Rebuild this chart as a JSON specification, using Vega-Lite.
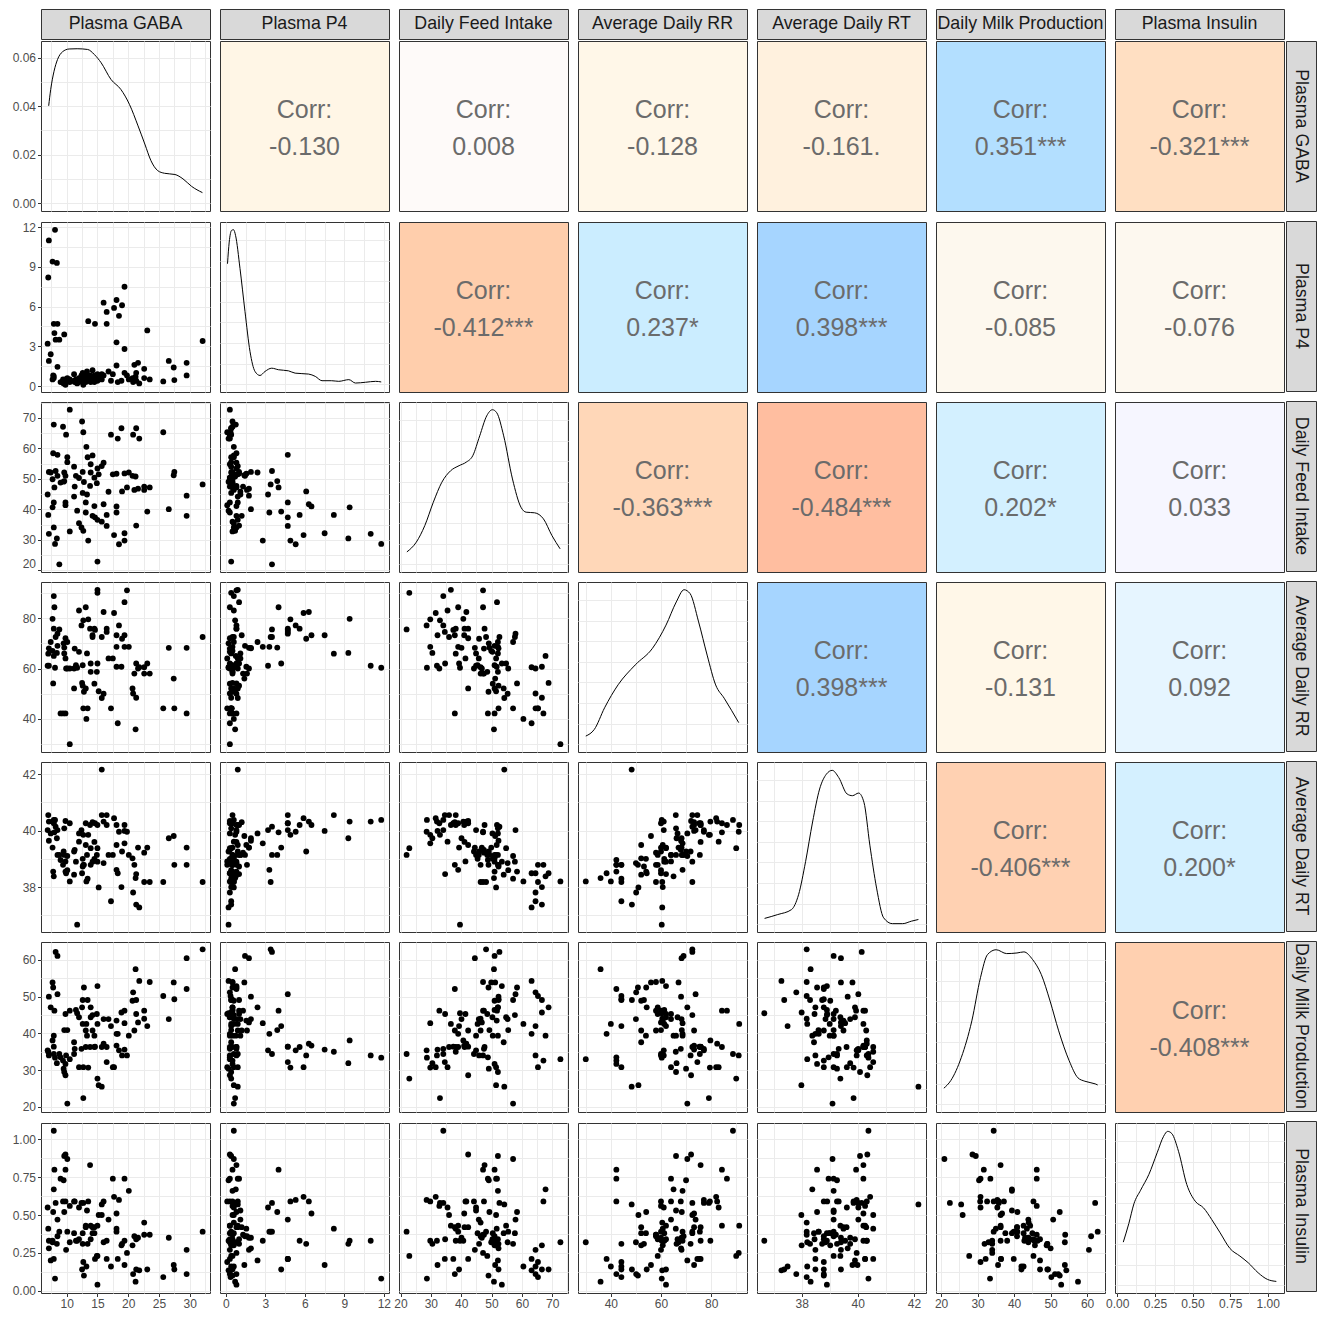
{
"$schema":"https://vega.github.io/schema/vega-lite/v6.json",
"padding":{"left":11,"top":8,"right":1,"bottom":4},
"background":"white",
"config":{
 "font":"Liberation Sans",
 "view":{"stroke":"#333333","strokeWidth":1},
 "axis":{"domain":false,"grid":true,"gridColor":"#EBEBEB","gridWidth":1,"labelFont":"Liberation Sans","labelFontSize":12,"labelColor":"#4D4D4D","tickColor":"#333333","tickWidth":1,"tickSize":3.5,"labelPadding":2,"labelOverlap":false,"labelFlush":false,"labelBound":false}
},
"datasets":{
"obs":[
{"G":6.9,"P4":3.2,"F":44.9,"RR":61.1,"RT":40.02,"M":35.4,"I":0.55},
{"G":7.0,"P4":8.2,"F":38.2,"RR":65.9,"RT":40.55,"M":35.0,"I":0.41},
{"G":7.1,"P4":1.9,"F":52.3,"RR":68.0,"RT":39.64,"M":50.0,"I":0.28},
{"G":7.1,"P4":11.0,"F":32.0,"RR":61.1,"RT":40.32,"M":34.0,"I":0.33},
{"G":7.4,"P4":2.4,"F":52.1,"RR":70.5,"RT":39.9,"M":47.1,"I":0.20},
{"G":7.7,"P4":0.5,"F":49.9,"RR":67.0,"RT":39.4,"M":53.9,"I":0.32},
{"G":7.7,"P4":9.4,"F":40.7,"RR":79.7,"RT":40.32,"M":38.1,"I":0.33},
{"G":7.8,"P4":0.8,"F":58.4,"RR":54.1,"RT":38.55,"M":52.5,"I":0.52},
{"G":7.9,"P4":0.75,"F":67.8,"RR":65.0,"RT":38.38,"M":39.4,"I":0.67},
{"G":7.9,"P4":0.6,"F":34.1,"RR":88.7,"RT":40.38,"M":34.4,"I":1.057},
{"G":7.9,"P4":4.7,"F":42.3,"RR":75.8,"RT":40.26,"M":36.4,"I":0.21},
{"G":8.0,"P4":4.0,"F":47.2,"RR":84.3,"RT":39.94,"M":46.2,"I":0.80},
{"G":8.1,"P4":11.8,"F":28.7,"RR":60.3,"RT":40.38,"M":33.4,"I":0.08},
{"G":8.2,"P4":3.5,"F":52.6,"RR":72.5,"RT":40.14,"M":62.2,"I":0.58},
{"G":8.4,"P4":9.3,"F":30.5,"RR":66.2,"RT":39.73,"M":31.9,"I":0.31},
{"G":8.5,"P4":4.7,"F":57.9,"RR":73.8,"RT":40.02,"M":50.7,"I":0.47},
{"G":8.5,"P4":1.45,"F":51.0,"RR":69.0,"RT":39.14,"M":61.1,"I":0.36},
{"G":8.8,"P4":3.5,"F":22.0,"RR":75.5,"RT":39.14,"M":34.4,"I":0.39},
{"G":9.0,"P4":0.3,"F":48.8,"RR":42.2,"RT":38.96,"M":33.5,"I":0.74},
{"G":9.4,"P4":0.5,"F":67.1,"RR":42.2,"RT":38.79,"M":32.6,"I":0.59},
{"G":9.5,"P4":0.2,"F":49.1,"RR":70.0,"RT":39.26,"M":30.4,"I":0.73},
{"G":9.6,"P4":0.4,"F":52.1,"RR":66.0,"RT":40.08,"M":29.5,"I":0.89},
{"G":9.6,"P4":3.9,"F":49.3,"RR":68.3,"RT":39.14,"M":40.9,"I":0.52},
{"G":9.8,"P4":0.3,"F":42.3,"RR":72.0,"RT":40.34,"M":28.6,"I":0.90},
{"G":9.8,"P4":0.1,"F":41.4,"RR":64.0,"RT":38.91,"M":45.3,"I":0.59},
{"G":9.8,"P4":0.5,"F":51.0,"RR":42.2,"RT":38.55,"M":31.7,"I":0.80},
{"G":9.9,"P4":0.3,"F":64.5,"RR":60.0,"RT":38.49,"M":34.0,"I":0.27},
{"G":10.1,"P4":0.6,"F":57.1,"RR":70.5,"RT":39.1,"M":20.9,"I":0.87},
{"G":10.1,"P4":0.4,"F":55.5,"RR":60.0,"RT":38.6,"M":40.9,"I":0.39},
{"G":10.5,"P4":0.3,"F":72.7,"RR":30.0,"RT":38.2,"M":33.0,"I":0.32},
{"G":10.5,"P4":0.5,"F":32.8,"RR":60.0,"RT":40.26,"M":46.2,"I":0.56},
{"G":11.2,"P4":0.4,"F":54.0,"RR":52.1,"RT":38.44,"M":37.6,"I":0.38},
{"G":11.2,"P4":0.9,"F":44.2,"RR":60.0,"RT":39.26,"M":34.4,"I":0.59},
{"G":11.3,"P4":0.3,"F":47.5,"RR":67.9,"RT":39.32,"M":35.8,"I":0.59},
{"G":11.5,"P4":0.5,"F":51.0,"RR":61.3,"RT":38.9,"M":46.4,"I":0.33},
{"G":11.7,"P4":0.2,"F":39.6,"RR":60.3,"RT":36.67,"M":45.5,"I":0.33},
{"G":12.0,"P4":0.6,"F":35.5,"RR":83.0,"RT":39.61,"M":30.8,"I":0.55},
{"G":12.0,"P4":0.3,"F":50.3,"RR":66.6,"RT":39.9,"M":44.4,"I":0.34},
{"G":12.4,"P4":0.8,"F":34.1,"RR":77.1,"RT":40.02,"M":35.8,"I":0.58},
{"G":12.5,"P4":0.5,"F":68.8,"RR":54.3,"RT":38.49,"M":47.1,"I":0.14},
{"G":12.6,"P4":1.0,"F":52.3,"RR":53.2,"RT":38.73,"M":49.1,"I":0.31},
{"G":12.6,"P4":0.4,"F":45.4,"RR":61.3,"RT":39.0,"M":42.6,"I":0.38},
{"G":12.7,"P4":0.1,"F":65.3,"RR":44.2,"RT":38.79,"M":30.8,"I":0.19},
{"G":12.7,"P4":0.7,"F":33.0,"RR":79.1,"RT":39.85,"M":22.4,"I":0.58},
{"G":12.8,"P4":0.5,"F":49.0,"RR":50.8,"RT":38.79,"M":52.5,"I":0.10},
{"G":13.1,"P4":0.9,"F":42.3,"RR":52.1,"RT":39.49,"M":40.8,"I":0.42},
{"G":13.1,"P4":0.3,"F":39.0,"RR":84.3,"RT":40.26,"M":36.3,"I":0.43},
{"G":13.2,"P4":0.6,"F":60.5,"RR":40.0,"RT":38.2,"M":42.6,"I":0.16},
{"G":13.3,"P4":1.1,"F":44.9,"RR":66.0,"RT":39.14,"M":39.4,"I":0.53},
{"G":13.4,"P4":0.4,"F":57.1,"RR":44.2,"RT":38.3,"M":49.1,"I":0.31},
{"G":13.5,"P4":4.9,"F":29.8,"RR":79.5,"RT":39.85,"M":30.7,"I":0.59},
{"G":13.8,"P4":0.8,"F":47.7,"RR":75.8,"RT":40.2,"M":36.3,"I":0.83},
{"G":13.9,"P4":0.5,"F":52.1,"RR":58.7,"RT":38.79,"M":47.1,"I":0.34},
{"G":13.9,"P4":0.3,"F":54.8,"RR":62.0,"RT":39.38,"M":44.4,"I":0.43},
{"G":14.2,"P4":0.6,"F":57.7,"RR":72.5,"RT":38.9,"M":45.0,"I":0.38},
{"G":14.2,"P4":1.2,"F":37.9,"RR":73.2,"RT":40.3,"M":40.8,"I":0.42},
{"G":14.5,"P4":0.3,"F":50.4,"RR":54.0,"RT":39.0,"M":39.4,"I":0.38},
{"G":14.5,"P4":0.8,"F":41.1,"RR":75.8,"RT":39.6,"M":36.3,"I":0.42},
{"G":14.6,"P4":4.7,"F":37.4,"RR":75.3,"RT":40.26,"M":36.4,"I":0.21},
{"G":14.9,"P4":0.5,"F":48.6,"RR":58.7,"RT":39.14,"M":45.3,"I":0.23},
{"G":15.0,"P4":0.9,"F":36.6,"RR":91.2,"RT":40.2,"M":42.6,"I":0.43},
{"G":15.0,"P4":0.4,"F":22.9,"RR":90.0,"RT":39.38,"M":27.7,"I":0.23},
{"G":15.0,"P4":0.8,"F":53.4,"RR":62.0,"RT":38.9,"M":52.9,"I":0.04},
{"G":15.2,"P4":0.6,"F":51.5,"RR":51.0,"RT":37.99,"M":25.9,"I":0.50},
{"G":15.7,"P4":0.9,"F":54.2,"RR":48.3,"RT":42.16,"M":25.5,"I":0.57},
{"G":15.7,"P4":0.5,"F":36.0,"RR":72.5,"RT":40.55,"M":36.3,"I":0.50},
{"G":16.0,"P4":0.8,"F":55.3,"RR":50.0,"RT":38.85,"M":43.9,"I":0.32},
{"G":16.0,"P4":6.3,"F":41.7,"RR":82.4,"RT":40.32,"M":37.2,"I":0.59},
{"G":16.5,"P4":5.6,"F":38.2,"RR":75.8,"RT":40.2,"M":36.3,"I":0.33},
{"G":16.5,"P4":4.7,"F":34.6,"RR":74.5,"RT":40.55,"M":32.2,"I":0.21},
{"G":16.8,"P4":1.1,"F":45.8,"RR":64.0,"RT":39.14,"M":43.9,"I":0.47},
{"G":17.2,"P4":0.4,"F":64.5,"RR":44.2,"RT":37.5,"M":42.0,"I":0.16},
{"G":17.5,"P4":0.9,"F":51.5,"RR":64.0,"RT":39.14,"M":30.8,"I":0.74},
{"G":17.7,"P4":5.9,"F":31.6,"RR":82.0,"RT":40.44,"M":30.8,"I":0.62},
{"G":18.1,"P4":6.5,"F":41.0,"RR":73.2,"RT":40.2,"M":36.7,"I":0.51},
{"G":18.1,"P4":3.3,"F":39.0,"RR":68.6,"RT":38.61,"M":39.9,"I":0.39},
{"G":18.1,"P4":1.55,"F":51.7,"RR":60.7,"RT":39.49,"M":43.5,"I":0.41},
{"G":18.3,"P4":0.3,"F":63.2,"RR":38.3,"RT":38.49,"M":39.9,"I":0.21},
{"G":18.5,"P4":5.3,"F":28.6,"RR":77.1,"RT":39.96,"M":35.4,"I":0.60},
{"G":18.9,"P4":0.4,"F":66.6,"RR":60.7,"RT":38.0,"M":45.7,"I":0.30},
{"G":19.0,"P4":6.1,"F":45.9,"RR":71.8,"RT":39.26,"M":34.0,"I":0.31},
{"G":19.4,"P4":7.5,"F":32.2,"RR":73.2,"RT":39.99,"M":35.6,"I":0.17},
{"G":19.4,"P4":2.8,"F":29.8,"RR":68.6,"RT":39.55,"M":42.8,"I":0.33},
{"G":19.4,"P4":1.0,"F":51.8,"RR":86.3,"RT":40.2,"M":46.2,"I":0.74},
{"G":19.8,"P4":0.8,"F":47.2,"RR":91.0,"RT":39.96,"M":34.0,"I":0.25},
{"G":20.1,"P4":0.5,"F":52.1,"RR":68.6,"RT":39.14,"M":39.4,"I":0.66},
{"G":20.7,"P4":0.6,"F":51.0,"RR":52.1,"RT":39.02,"M":48.9,"I":0.30},
{"G":20.8,"P4":0.3,"F":64.5,"RR":50.1,"RT":37.81,"M":51.2,"I":0.11},
{"G":21.0,"P4":1.6,"F":46.4,"RR":58.0,"RT":38.79,"M":40.8,"I":0.36},
{"G":21.2,"P4":0.7,"F":50.8,"RR":35.9,"RT":38.32,"M":57.5,"I":0.06},
{"G":21.3,"P4":0.4,"F":66.6,"RR":48.4,"RT":37.38,"M":49.1,"I":0.14},
{"G":21.3,"P4":1.0,"F":34.7,"RR":62.0,"RT":38.46,"M":45.3,"I":0.34},
{"G":21.6,"P4":1.75,"F":46.8,"RR":60.0,"RT":39.4,"M":43.0,"I":0.35},
{"G":21.8,"P4":0.2,"F":63.2,"RR":60.5,"RT":37.28,"M":54.3,"I":0.135},
{"G":22.6,"P4":1.3,"F":47.5,"RR":58.0,"RT":39.22,"M":46.2,"I":0.37},
{"G":22.6,"P4":0.6,"F":46.4,"RR":60.5,"RT":38.18,"M":44.0,"I":0.45},
{"G":23.1,"P4":4.2,"F":39.3,"RR":62.0,"RT":39.4,"M":42.0,"I":0.14},
{"G":23.5,"P4":0.5,"F":47.2,"RR":58.0,"RT":38.18,"M":54.0,"I":0.37},
{"G":25.7,"P4":0.35,"F":65.3,"RR":44.2,"RT":38.18,"M":50.2,"I":0.09},
{"G":26.6,"P4":1.9,"F":40.1,"RR":68.2,"RT":39.73,"M":43.9,"I":0.35},
{"G":27.4,"P4":1.4,"F":51.2,"RR":56.0,"RT":39.81,"M":53.9,"I":0.17},
{"G":27.5,"P4":0.45,"F":52.3,"RR":44.2,"RT":38.79,"M":49.3,"I":0.14},
{"G":29.5,"P4":1.75,"F":44.5,"RR":68.2,"RT":39.4,"M":60.5,"I":0.27},
{"G":29.5,"P4":0.8,"F":37.9,"RR":42.2,"RT":38.79,"M":52.1,"I":0.11},
{"G":32.1,"P4":3.4,"F":48.2,"RR":72.5,"RT":38.18,"M":62.9,"I":0.39}
],
"dG":[{"x":7.07,"y":0.0402},{"x":7.4,"y":0.047},{"x":7.94,"y":0.0545},{"x":8.5,"y":0.0593},{"x":9.3,"y":0.0625},{"x":10.4,"y":0.0637},{"x":11.7,"y":0.0638},{"x":13.4,"y":0.0635},{"x":14.5,"y":0.0614},{"x":15.6,"y":0.058},{"x":17.2,"y":0.0511},{"x":18.8,"y":0.047},{"x":20.2,"y":0.0408},{"x":21.6,"y":0.0319},{"x":22.7,"y":0.0244},{"x":23.7,"y":0.0175},{"x":24.8,"y":0.0134},{"x":25.9,"y":0.0123},{"x":27.6,"y":0.0118},{"x":28.9,"y":0.010},{"x":30.3,"y":0.0069},{"x":32.07,"y":0.0043}],
"dP4":[{"x":0.12,"y":0.78},{"x":0.25,"y":0.92},{"x":0.43,"y":0.996},{"x":0.58,"y":1.0},{"x":0.73,"y":0.964},{"x":1.07,"y":0.749},{"x":1.45,"y":0.47},{"x":1.83,"y":0.212},{"x":2.21,"y":0.083},{"x":2.59,"y":0.057},{"x":2.97,"y":0.083},{"x":3.48,"y":0.104},{"x":3.99,"y":0.094},{"x":4.75,"y":0.087},{"x":5.26,"y":0.072},{"x":6.28,"y":0.066},{"x":6.79,"y":0.051},{"x":7.3,"y":0.023},{"x":8.03,"y":0.023},{"x":8.57,"y":0.019},{"x":9.34,"y":0.03},{"x":9.84,"y":0.008},{"x":10.61,"y":0.013},{"x":11.37,"y":0.019},{"x":11.8,"y":0.015}],
"dF":[{"x":22.1,"y":0.08},{"x":25.2,"y":0.143},{"x":28.0,"y":0.25},{"x":30.8,"y":0.401},{"x":33.6,"y":0.53},{"x":36.5,"y":0.605},{"x":39.3,"y":0.638},{"x":41.6,"y":0.66},{"x":43.8,"y":0.702},{"x":46.1,"y":0.831},{"x":48.4,"y":0.96},{"x":50.3,"y":1.0},{"x":51.7,"y":0.981},{"x":54.0,"y":0.831},{"x":56.9,"y":0.552},{"x":59.7,"y":0.369},{"x":61.4,"y":0.337},{"x":64.2,"y":0.333},{"x":67.1,"y":0.294},{"x":69.9,"y":0.186},{"x":72.6,"y":0.1}],
"dRR":[{"x":30.0,"y":0.053},{"x":33.4,"y":0.096},{"x":37.5,"y":0.236},{"x":42.9,"y":0.385},{"x":49.7,"y":0.513},{"x":56.6,"y":0.621},{"x":62.0,"y":0.771},{"x":66.1,"y":0.921},{"x":69.2,"y":1.0},{"x":71.6,"y":0.975},{"x":75.0,"y":0.792},{"x":78.4,"y":0.577},{"x":81.8,"y":0.384},{"x":85.2,"y":0.298},{"x":91.0,"y":0.14}],
"dRT":[{"x":36.68,"y":0.038},{"x":37.15,"y":0.063},{"x":37.64,"y":0.095},{"x":37.89,"y":0.191},{"x":38.14,"y":0.405},{"x":38.39,"y":0.662},{"x":38.64,"y":0.875},{"x":38.88,"y":0.971},{"x":39.09,"y":0.996},{"x":39.32,"y":0.95},{"x":39.62,"y":0.843},{"x":39.81,"y":0.832},{"x":40.03,"y":0.849},{"x":40.22,"y":0.789},{"x":40.43,"y":0.512},{"x":40.67,"y":0.234},{"x":40.92,"y":0.042},{"x":41.23,"y":0.004},{"x":41.6,"y":0.004},{"x":41.91,"y":0.02},{"x":42.16,"y":0.031}],
"dM":[{"x":20.75,"y":0.104},{"x":22.67,"y":0.154},{"x":25.55,"y":0.304},{"x":28.42,"y":0.54},{"x":30.78,"y":0.819},{"x":32.72,"y":0.969},{"x":35.08,"y":1.0},{"x":37.95,"y":0.975},{"x":40.78,"y":0.979},{"x":42.68,"y":0.986},{"x":45.08,"y":0.936},{"x":47.44,"y":0.84},{"x":49.85,"y":0.668},{"x":52.21,"y":0.475},{"x":55.08,"y":0.282},{"x":57.49,"y":0.171},{"x":59.39,"y":0.149},{"x":62.21,"y":0.132},{"x":62.9,"y":0.125}],
"dI":[{"x":0.04,"y":0.279},{"x":0.077,"y":0.4},{"x":0.111,"y":0.528},{"x":0.155,"y":0.615},{"x":0.21,"y":0.717},{"x":0.265,"y":0.857},{"x":0.308,"y":0.964},{"x":0.335,"y":0.996},{"x":0.363,"y":0.981},{"x":0.407,"y":0.867},{"x":0.462,"y":0.652},{"x":0.518,"y":0.544},{"x":0.573,"y":0.501},{"x":0.628,"y":0.425},{"x":0.684,"y":0.339},{"x":0.749,"y":0.238},{"x":0.815,"y":0.189},{"x":0.87,"y":0.146},{"x":0.936,"y":0.081},{"x":0.998,"y":0.038},{"x":1.057,"y":0.025}]
},
"spacing":0,
"vconcat":[
 {"bounds":"flush","spacing":10,"hconcat":[
  {"width":169,"height":30,"view":{"fill":"#D9D9D9","stroke":"#333333"},"data":{"values":[{"s":"Plasma GABA"}]},"mark":{"type":"text","fontSize":17.8,"color":"#1A1A1A","align":"center","baseline":"middle"},"encoding":{"text":{"field":"s","type":"nominal"}}},
  {"width":169,"height":30,"view":{"fill":"#D9D9D9","stroke":"#333333"},"data":{"values":[{"s":"Plasma P4"}]},"mark":{"type":"text","fontSize":17.8,"color":"#1A1A1A","align":"center","baseline":"middle"},"encoding":{"text":{"field":"s","type":"nominal"}}},
  {"width":169,"height":30,"view":{"fill":"#D9D9D9","stroke":"#333333"},"data":{"values":[{"s":"Daily Feed Intake"}]},"mark":{"type":"text","fontSize":17.8,"color":"#1A1A1A","align":"center","baseline":"middle"},"encoding":{"text":{"field":"s","type":"nominal"}}},
  {"width":169,"height":30,"view":{"fill":"#D9D9D9","stroke":"#333333"},"data":{"values":[{"s":"Average Daily RR"}]},"mark":{"type":"text","fontSize":17.8,"color":"#1A1A1A","align":"center","baseline":"middle"},"encoding":{"text":{"field":"s","type":"nominal"}}},
  {"width":169,"height":30,"view":{"fill":"#D9D9D9","stroke":"#333333"},"data":{"values":[{"s":"Average Daily RT"}]},"mark":{"type":"text","fontSize":17.8,"color":"#1A1A1A","align":"center","baseline":"middle"},"encoding":{"text":{"field":"s","type":"nominal"}}},
  {"width":169,"height":30,"view":{"fill":"#D9D9D9","stroke":"#333333"},"data":{"values":[{"s":"Daily Milk Production"}]},"mark":{"type":"text","fontSize":17.8,"color":"#1A1A1A","align":"center","baseline":"middle"},"encoding":{"text":{"field":"s","type":"nominal"}}},
  {"width":169,"height":30,"view":{"fill":"#D9D9D9","stroke":"#333333"},"data":{"values":[{"s":"Plasma Insulin"}]},"mark":{"type":"text","fontSize":17.8,"color":"#1A1A1A","align":"center","baseline":"middle"},"encoding":{"text":{"field":"s","type":"nominal"}}}
 ]},
 {"spacing":0,"hconcat":[
  {"spacing":8,"vconcat":[
   {"bounds":"flush","spacing":10,"hconcat":[
    {"width":169,"height":170,"data":{"name":"dG"},"mark":{"type":"line","color":"#000000","strokeWidth":1,"interpolate":"monotone"},"encoding":{
     "x":{"field":"x","type":"quantitative","title":null,"scale":{"domain":[5.82,33.3],"nice":false,"zero":false},"axis":{"values":[7.5,10,12.5,15,17.5,20,22.5,25,27.5,30,32.5],"labels":false,"ticks":false}},
     "y":{"field":"y","type":"quantitative","title":null,"scale":{"domain":[-0.0033,0.067],"nice":false,"zero":false},"axis":{"values":[0,0.01,0.02,0.03,0.04,0.05,0.06],"format":".2f","labelExpr":"round(datum.value*100) % 2 != 0 ? '' : datum.label","tickSize":{"condition":{"test":"round(datum.value*100) % 2 != 0","value":0},"value":3.5}}}}},
    {"width":169,"height":170,"view":{"fill":"#FFF6E6","stroke":"#333333"},"data":{"values":[{"t":"Corr:\n-0.130"}]},"mark":{"type":"text","fontSize":25,"color":"#6B6B6B","lineBreak":"\n","lineHeight":37,"align":"center","baseline":"middle","dy":-16.5},"encoding":{"text":{"field":"t","type":"nominal"}}},
    {"width":169,"height":170,"view":{"fill":"#FEFAF9","stroke":"#333333"},"data":{"values":[{"t":"Corr:\n0.008"}]},"mark":{"type":"text","fontSize":25,"color":"#6B6B6B","lineBreak":"\n","lineHeight":37,"align":"center","baseline":"middle","dy":-16.5},"encoding":{"text":{"field":"t","type":"nominal"}}},
    {"width":169,"height":170,"view":{"fill":"#FFF7E8","stroke":"#333333"},"data":{"values":[{"t":"Corr:\n-0.128"}]},"mark":{"type":"text","fontSize":25,"color":"#6B6B6B","lineBreak":"\n","lineHeight":37,"align":"center","baseline":"middle","dy":-16.5},"encoding":{"text":{"field":"t","type":"nominal"}}},
    {"width":169,"height":170,"view":{"fill":"#FFF1DE","stroke":"#333333"},"data":{"values":[{"t":"Corr:\n-0.161."}]},"mark":{"type":"text","fontSize":25,"color":"#6B6B6B","lineBreak":"\n","lineHeight":37,"align":"center","baseline":"middle","dy":-16.5},"encoding":{"text":{"field":"t","type":"nominal"}}},
    {"width":169,"height":170,"view":{"fill":"#B3DFFF","stroke":"#333333"},"data":{"values":[{"t":"Corr:\n0.351***"}]},"mark":{"type":"text","fontSize":25,"color":"#6B6B6B","lineBreak":"\n","lineHeight":37,"align":"center","baseline":"middle","dy":-16.5},"encoding":{"text":{"field":"t","type":"nominal"}}},
    {"width":169,"height":170,"view":{"fill":"#FFDFC2","stroke":"#333333"},"data":{"values":[{"t":"Corr:\n-0.321***"}]},"mark":{"type":"text","fontSize":25,"color":"#6B6B6B","lineBreak":"\n","lineHeight":37,"align":"center","baseline":"middle","dy":-16.5},"encoding":{"text":{"field":"t","type":"nominal"}}}
   ]},
   {"bounds":"flush","spacing":10,"hconcat":[
    {"width":169,"height":170,"data":{"name":"obs"},"mark":{"type":"circle","size":34,"color":"#000000","opacity":1},"encoding":{
     "x":{"field":"G","type":"quantitative","title":null,"scale":{"domain":[5.82,33.3],"nice":false,"zero":false},"axis":{"values":[7.5,10,12.5,15,17.5,20,22.5,25,27.5,30,32.5],"labels":false,"ticks":false}},
     "y":{"field":"P4","type":"quantitative","title":null,"scale":{"domain":[-0.45,12.39],"nice":false,"zero":false},"axis":{"values":[0,1.5,3,4.5,6,7.5,9,10.5,12],"format":".0f","labelExpr":"datum.value % 3 != 0 ? '' : datum.label","tickSize":{"condition":{"test":"datum.value % 3 != 0","value":0},"value":3.5}}}}},
    {"width":169,"height":170,"data":{"name":"dP4"},"mark":{"type":"line","color":"#000000","strokeWidth":1,"interpolate":"monotone"},"encoding":{
     "x":{"field":"x","type":"quantitative","title":null,"scale":{"domain":[-0.45,12.39],"nice":false,"zero":false},"axis":{"values":[0,1.5,3,4.5,6,7.5,9,10.5,12],"labels":false,"ticks":false}},
     "y":{"field":"y","type":"quantitative","title":null,"scale":{"domain":[-0.05,1.05],"nice":false,"zero":false},"axis":{"values":[0,0.133,0.267,0.4,0.533,0.667,0.8,0.933],"labels":false,"ticks":false}}}},
    {"width":169,"height":170,"view":{"fill":"#FFCEAC","stroke":"#333333"},"data":{"values":[{"t":"Corr:\n-0.412***"}]},"mark":{"type":"text","fontSize":25,"color":"#6B6B6B","lineBreak":"\n","lineHeight":37,"align":"center","baseline":"middle","dy":-16.5},"encoding":{"text":{"field":"t","type":"nominal"}}},
    {"width":169,"height":170,"view":{"fill":"#CBEDFF","stroke":"#333333"},"data":{"values":[{"t":"Corr:\n0.237*"}]},"mark":{"type":"text","fontSize":25,"color":"#6B6B6B","lineBreak":"\n","lineHeight":37,"align":"center","baseline":"middle","dy":-16.5},"encoding":{"text":{"field":"t","type":"nominal"}}},
    {"width":169,"height":170,"view":{"fill":"#A6D5FF","stroke":"#333333"},"data":{"values":[{"t":"Corr:\n0.398***"}]},"mark":{"type":"text","fontSize":25,"color":"#6B6B6B","lineBreak":"\n","lineHeight":37,"align":"center","baseline":"middle","dy":-16.5},"encoding":{"text":{"field":"t","type":"nominal"}}},
    {"width":169,"height":170,"view":{"fill":"#FDF8EE","stroke":"#333333"},"data":{"values":[{"t":"Corr:\n-0.085"}]},"mark":{"type":"text","fontSize":25,"color":"#6B6B6B","lineBreak":"\n","lineHeight":37,"align":"center","baseline":"middle","dy":-16.5},"encoding":{"text":{"field":"t","type":"nominal"}}},
    {"width":169,"height":170,"view":{"fill":"#FDF8EF","stroke":"#333333"},"data":{"values":[{"t":"Corr:\n-0.076"}]},"mark":{"type":"text","fontSize":25,"color":"#6B6B6B","lineBreak":"\n","lineHeight":37,"align":"center","baseline":"middle","dy":-16.5},"encoding":{"text":{"field":"t","type":"nominal"}}}
   ]},
   {"bounds":"flush","spacing":10,"hconcat":[
    {"width":169,"height":170,"data":{"name":"obs"},"mark":{"type":"circle","size":34,"color":"#000000","opacity":1},"encoding":{
     "x":{"field":"G","type":"quantitative","title":null,"scale":{"domain":[5.82,33.3],"nice":false,"zero":false},"axis":{"values":[7.5,10,12.5,15,17.5,20,22.5,25,27.5,30,32.5],"labels":false,"ticks":false}},
     "y":{"field":"F","type":"quantitative","title":null,"scale":{"domain":[19.5,75.2],"nice":false,"zero":false},"axis":{"values":[20,25,30,35,40,45,50,55,60,65,70,75],"format":".0f","labelExpr":"datum.value % 10 != 0 ? '' : datum.label","tickSize":{"condition":{"test":"datum.value % 10 != 0","value":0},"value":3.5},"labelFlush":4}}}},
    {"width":169,"height":170,"data":{"name":"obs"},"mark":{"type":"circle","size":34,"color":"#000000","opacity":1},"encoding":{
     "x":{"field":"P4","type":"quantitative","title":null,"scale":{"domain":[-0.45,12.39],"nice":false,"zero":false},"axis":{"values":[0,1.5,3,4.5,6,7.5,9,10.5,12],"labels":false,"ticks":false}},
     "y":{"field":"F","type":"quantitative","title":null,"scale":{"domain":[19.5,75.2],"nice":false,"zero":false},"axis":{"values":[20,25,30,35,40,45,50,55,60,65,70,75],"labels":false,"ticks":false}}}},
    {"width":169,"height":170,"data":{"name":"dF"},"mark":{"type":"line","color":"#000000","strokeWidth":1,"interpolate":"monotone"},"encoding":{
     "x":{"field":"x","type":"quantitative","title":null,"scale":{"domain":[19.5,75.2],"nice":false,"zero":false},"axis":{"values":[20,25,30,35,40,45,50,55,60,65,70,75],"labels":false,"ticks":false}},
     "y":{"field":"y","type":"quantitative","title":null,"scale":{"domain":[-0.05,1.05],"nice":false,"zero":false},"axis":{"values":[0,0.133,0.267,0.4,0.533,0.667,0.8,0.933],"labels":false,"ticks":false}}}},
    {"width":169,"height":170,"view":{"fill":"#FFD7B8","stroke":"#333333"},"data":{"values":[{"t":"Corr:\n-0.363***"}]},"mark":{"type":"text","fontSize":25,"color":"#6B6B6B","lineBreak":"\n","lineHeight":37,"align":"center","baseline":"middle","dy":-16.5},"encoding":{"text":{"field":"t","type":"nominal"}}},
    {"width":169,"height":170,"view":{"fill":"#FFBEA0","stroke":"#333333"},"data":{"values":[{"t":"Corr:\n-0.484***"}]},"mark":{"type":"text","fontSize":25,"color":"#6B6B6B","lineBreak":"\n","lineHeight":37,"align":"center","baseline":"middle","dy":-16.5},"encoding":{"text":{"field":"t","type":"nominal"}}},
    {"width":169,"height":170,"view":{"fill":"#D3F0FF","stroke":"#333333"},"data":{"values":[{"t":"Corr:\n0.202*"}]},"mark":{"type":"text","fontSize":25,"color":"#6B6B6B","lineBreak":"\n","lineHeight":37,"align":"center","baseline":"middle","dy":-16.5},"encoding":{"text":{"field":"t","type":"nominal"}}},
    {"width":169,"height":170,"view":{"fill":"#F6F6FF","stroke":"#333333"},"data":{"values":[{"t":"Corr:\n0.033"}]},"mark":{"type":"text","fontSize":25,"color":"#6B6B6B","lineBreak":"\n","lineHeight":37,"align":"center","baseline":"middle","dy":-16.5},"encoding":{"text":{"field":"t","type":"nominal"}}}
   ]},
   {"bounds":"flush","spacing":10,"hconcat":[
    {"width":169,"height":170,"data":{"name":"obs"},"mark":{"type":"circle","size":34,"color":"#000000","opacity":1},"encoding":{
     "x":{"field":"G","type":"quantitative","title":null,"scale":{"domain":[5.82,33.3],"nice":false,"zero":false},"axis":{"values":[7.5,10,12.5,15,17.5,20,22.5,25,27.5,30,32.5],"labels":false,"ticks":false}},
     "y":{"field":"RR","type":"quantitative","title":null,"scale":{"domain":[26.9,94.3],"nice":false,"zero":false},"axis":{"values":[30,40,50,60,70,80,90],"format":".0f","labelExpr":"datum.value % 20 != 0 ? '' : datum.label","tickSize":{"condition":{"test":"datum.value % 20 != 0","value":0},"value":3.5}}}}},
    {"width":169,"height":170,"data":{"name":"obs"},"mark":{"type":"circle","size":34,"color":"#000000","opacity":1},"encoding":{
     "x":{"field":"P4","type":"quantitative","title":null,"scale":{"domain":[-0.45,12.39],"nice":false,"zero":false},"axis":{"values":[0,1.5,3,4.5,6,7.5,9,10.5,12],"labels":false,"ticks":false}},
     "y":{"field":"RR","type":"quantitative","title":null,"scale":{"domain":[26.9,94.3],"nice":false,"zero":false},"axis":{"values":[30,40,50,60,70,80,90],"labels":false,"ticks":false}}}},
    {"width":169,"height":170,"data":{"name":"obs"},"mark":{"type":"circle","size":34,"color":"#000000","opacity":1},"encoding":{
     "x":{"field":"F","type":"quantitative","title":null,"scale":{"domain":[19.5,75.2],"nice":false,"zero":false},"axis":{"values":[20,25,30,35,40,45,50,55,60,65,70,75],"labels":false,"ticks":false}},
     "y":{"field":"RR","type":"quantitative","title":null,"scale":{"domain":[26.9,94.3],"nice":false,"zero":false},"axis":{"values":[30,40,50,60,70,80,90],"labels":false,"ticks":false}}}},
    {"width":169,"height":170,"data":{"name":"dRR"},"mark":{"type":"line","color":"#000000","strokeWidth":1,"interpolate":"monotone"},"encoding":{
     "x":{"field":"x","type":"quantitative","title":null,"scale":{"domain":[26.9,94.3],"nice":false,"zero":false},"axis":{"values":[30,40,50,60,70,80,90],"labels":false,"ticks":false}},
     "y":{"field":"y","type":"quantitative","title":null,"scale":{"domain":[-0.05,1.05],"nice":false,"zero":false},"axis":{"values":[0,0.133,0.267,0.4,0.533,0.667,0.8,0.933],"labels":false,"ticks":false}}}},
    {"width":169,"height":170,"view":{"fill":"#A6D5FF","stroke":"#333333"},"data":{"values":[{"t":"Corr:\n0.398***"}]},"mark":{"type":"text","fontSize":25,"color":"#6B6B6B","lineBreak":"\n","lineHeight":37,"align":"center","baseline":"middle","dy":-16.5},"encoding":{"text":{"field":"t","type":"nominal"}}},
    {"width":169,"height":170,"view":{"fill":"#FFF7E8","stroke":"#333333"},"data":{"values":[{"t":"Corr:\n-0.131"}]},"mark":{"type":"text","fontSize":25,"color":"#6B6B6B","lineBreak":"\n","lineHeight":37,"align":"center","baseline":"middle","dy":-16.5},"encoding":{"text":{"field":"t","type":"nominal"}}},
    {"width":169,"height":170,"view":{"fill":"#E6F5FF","stroke":"#333333"},"data":{"values":[{"t":"Corr:\n0.092"}]},"mark":{"type":"text","fontSize":25,"color":"#6B6B6B","lineBreak":"\n","lineHeight":37,"align":"center","baseline":"middle","dy":-16.5},"encoding":{"text":{"field":"t","type":"nominal"}}}
   ]},
   {"bounds":"flush","spacing":10,"hconcat":[
    {"width":169,"height":170,"data":{"name":"obs"},"mark":{"type":"circle","size":34,"color":"#000000","opacity":1},"encoding":{
     "x":{"field":"G","type":"quantitative","title":null,"scale":{"domain":[5.82,33.3],"nice":false,"zero":false},"axis":{"values":[7.5,10,12.5,15,17.5,20,22.5,25,27.5,30,32.5],"labels":false,"ticks":false}},
     "y":{"field":"RT","type":"quantitative","title":null,"scale":{"domain":[36.41,42.43],"nice":false,"zero":false},"axis":{"values":[37,38,39,40,41,42],"format":".0f","labelExpr":"datum.value % 2 != 0 ? '' : datum.label","tickSize":{"condition":{"test":"datum.value % 2 != 0","value":0},"value":3.5}}}}},
    {"width":169,"height":170,"data":{"name":"obs"},"mark":{"type":"circle","size":34,"color":"#000000","opacity":1},"encoding":{
     "x":{"field":"P4","type":"quantitative","title":null,"scale":{"domain":[-0.45,12.39],"nice":false,"zero":false},"axis":{"values":[0,1.5,3,4.5,6,7.5,9,10.5,12],"labels":false,"ticks":false}},
     "y":{"field":"RT","type":"quantitative","title":null,"scale":{"domain":[36.41,42.43],"nice":false,"zero":false},"axis":{"values":[37,38,39,40,41,42],"labels":false,"ticks":false}}}},
    {"width":169,"height":170,"data":{"name":"obs"},"mark":{"type":"circle","size":34,"color":"#000000","opacity":1},"encoding":{
     "x":{"field":"F","type":"quantitative","title":null,"scale":{"domain":[19.5,75.2],"nice":false,"zero":false},"axis":{"values":[20,25,30,35,40,45,50,55,60,65,70,75],"labels":false,"ticks":false}},
     "y":{"field":"RT","type":"quantitative","title":null,"scale":{"domain":[36.41,42.43],"nice":false,"zero":false},"axis":{"values":[37,38,39,40,41,42],"labels":false,"ticks":false}}}},
    {"width":169,"height":170,"data":{"name":"obs"},"mark":{"type":"circle","size":34,"color":"#000000","opacity":1},"encoding":{
     "x":{"field":"RR","type":"quantitative","title":null,"scale":{"domain":[26.9,94.3],"nice":false,"zero":false},"axis":{"values":[30,40,50,60,70,80,90],"labels":false,"ticks":false}},
     "y":{"field":"RT","type":"quantitative","title":null,"scale":{"domain":[36.41,42.43],"nice":false,"zero":false},"axis":{"values":[37,38,39,40,41,42],"labels":false,"ticks":false}}}},
    {"width":169,"height":170,"data":{"name":"dRT"},"mark":{"type":"line","color":"#000000","strokeWidth":1,"interpolate":"monotone"},"encoding":{
     "x":{"field":"x","type":"quantitative","title":null,"scale":{"domain":[36.41,42.43],"nice":false,"zero":false},"axis":{"values":[37,38,39,40,41,42],"labels":false,"ticks":false}},
     "y":{"field":"y","type":"quantitative","title":null,"scale":{"domain":[-0.05,1.05],"nice":false,"zero":false},"axis":{"values":[0,0.133,0.267,0.4,0.533,0.667,0.8,0.933],"labels":false,"ticks":false}}}},
    {"width":169,"height":170,"view":{"fill":"#FFD1B2","stroke":"#333333"},"data":{"values":[{"t":"Corr:\n-0.406***"}]},"mark":{"type":"text","fontSize":25,"color":"#6B6B6B","lineBreak":"\n","lineHeight":37,"align":"center","baseline":"middle","dy":-16.5},"encoding":{"text":{"field":"t","type":"nominal"}}},
    {"width":169,"height":170,"view":{"fill":"#D4F0FF","stroke":"#333333"},"data":{"values":[{"t":"Corr:\n0.200*"}]},"mark":{"type":"text","fontSize":25,"color":"#6B6B6B","lineBreak":"\n","lineHeight":37,"align":"center","baseline":"middle","dy":-16.5},"encoding":{"text":{"field":"t","type":"nominal"}}}
   ]},
   {"bounds":"flush","spacing":10,"hconcat":[
    {"width":169,"height":170,"data":{"name":"obs"},"mark":{"type":"circle","size":34,"color":"#000000","opacity":1},"encoding":{
     "x":{"field":"G","type":"quantitative","title":null,"scale":{"domain":[5.82,33.3],"nice":false,"zero":false},"axis":{"values":[7.5,10,12.5,15,17.5,20,22.5,25,27.5,30,32.5],"labels":false,"ticks":false}},
     "y":{"field":"M","type":"quantitative","title":null,"scale":{"domain":[18.6,64.9],"nice":false,"zero":false},"axis":{"values":[20,25,30,35,40,45,50,55,60],"format":".0f","labelExpr":"datum.value % 10 != 0 ? '' : datum.label","tickSize":{"condition":{"test":"datum.value % 10 != 0","value":0},"value":3.5}}}}},
    {"width":169,"height":170,"data":{"name":"obs"},"mark":{"type":"circle","size":34,"color":"#000000","opacity":1},"encoding":{
     "x":{"field":"P4","type":"quantitative","title":null,"scale":{"domain":[-0.45,12.39],"nice":false,"zero":false},"axis":{"values":[0,1.5,3,4.5,6,7.5,9,10.5,12],"labels":false,"ticks":false}},
     "y":{"field":"M","type":"quantitative","title":null,"scale":{"domain":[18.6,64.9],"nice":false,"zero":false},"axis":{"values":[20,25,30,35,40,45,50,55,60],"labels":false,"ticks":false}}}},
    {"width":169,"height":170,"data":{"name":"obs"},"mark":{"type":"circle","size":34,"color":"#000000","opacity":1},"encoding":{
     "x":{"field":"F","type":"quantitative","title":null,"scale":{"domain":[19.5,75.2],"nice":false,"zero":false},"axis":{"values":[20,25,30,35,40,45,50,55,60,65,70,75],"labels":false,"ticks":false}},
     "y":{"field":"M","type":"quantitative","title":null,"scale":{"domain":[18.6,64.9],"nice":false,"zero":false},"axis":{"values":[20,25,30,35,40,45,50,55,60],"labels":false,"ticks":false}}}},
    {"width":169,"height":170,"data":{"name":"obs"},"mark":{"type":"circle","size":34,"color":"#000000","opacity":1},"encoding":{
     "x":{"field":"RR","type":"quantitative","title":null,"scale":{"domain":[26.9,94.3],"nice":false,"zero":false},"axis":{"values":[30,40,50,60,70,80,90],"labels":false,"ticks":false}},
     "y":{"field":"M","type":"quantitative","title":null,"scale":{"domain":[18.6,64.9],"nice":false,"zero":false},"axis":{"values":[20,25,30,35,40,45,50,55,60],"labels":false,"ticks":false}}}},
    {"width":169,"height":170,"data":{"name":"obs"},"mark":{"type":"circle","size":34,"color":"#000000","opacity":1},"encoding":{
     "x":{"field":"RT","type":"quantitative","title":null,"scale":{"domain":[36.41,42.43],"nice":false,"zero":false},"axis":{"values":[37,38,39,40,41,42],"labels":false,"ticks":false}},
     "y":{"field":"M","type":"quantitative","title":null,"scale":{"domain":[18.6,64.9],"nice":false,"zero":false},"axis":{"values":[20,25,30,35,40,45,50,55,60],"labels":false,"ticks":false}}}},
    {"width":169,"height":170,"data":{"name":"dM"},"mark":{"type":"line","color":"#000000","strokeWidth":1,"interpolate":"monotone"},"encoding":{
     "x":{"field":"x","type":"quantitative","title":null,"scale":{"domain":[18.6,64.9],"nice":false,"zero":false},"axis":{"values":[20,25,30,35,40,45,50,55,60],"labels":false,"ticks":false}},
     "y":{"field":"y","type":"quantitative","title":null,"scale":{"domain":[-0.05,1.05],"nice":false,"zero":false},"axis":{"values":[0,0.133,0.267,0.4,0.533,0.667,0.8,0.933],"labels":false,"ticks":false}}}},
    {"width":169,"height":170,"view":{"fill":"#FFD0B0","stroke":"#333333"},"data":{"values":[{"t":"Corr:\n-0.408***"}]},"mark":{"type":"text","fontSize":25,"color":"#6B6B6B","lineBreak":"\n","lineHeight":37,"align":"center","baseline":"middle","dy":-16.5},"encoding":{"text":{"field":"t","type":"nominal"}}}
   ]},
   {"bounds":"flush","spacing":10,"hconcat":[
    {"width":169,"height":170,"data":{"name":"obs"},"mark":{"type":"circle","size":34,"color":"#000000","opacity":1},"encoding":{
     "x":{"field":"G","type":"quantitative","title":null,"scale":{"domain":[5.82,33.3],"nice":false,"zero":false},"axis":{"values":[7.5,10,12.5,15,17.5,20,22.5,25,27.5,30,32.5],"format":".0f","labelExpr":"datum.value % 5 != 0 ? '' : datum.label","tickSize":{"condition":{"test":"datum.value % 5 != 0","value":0},"value":3.5}}},
     "y":{"field":"I","type":"quantitative","title":null,"scale":{"domain":[-0.015,1.108],"nice":false,"zero":false},"axis":{"values":[0,0.125,0.25,0.375,0.5,0.625,0.75,0.875,1],"format":".2f","labelExpr":"datum.value % 0.25 != 0 ? '' : datum.label","tickSize":{"condition":{"test":"datum.value % 0.25 != 0","value":0},"value":3.5}}}}},
    {"width":169,"height":170,"data":{"name":"obs"},"mark":{"type":"circle","size":34,"color":"#000000","opacity":1},"encoding":{
     "x":{"field":"P4","type":"quantitative","title":null,"scale":{"domain":[-0.45,12.39],"nice":false,"zero":false},"axis":{"values":[0,1.5,3,4.5,6,7.5,9,10.5,12],"format":".0f","labelExpr":"datum.value % 3 != 0 ? '' : datum.label","tickSize":{"condition":{"test":"datum.value % 3 != 0","value":0},"value":3.5}}},
     "y":{"field":"I","type":"quantitative","title":null,"scale":{"domain":[-0.015,1.108],"nice":false,"zero":false},"axis":{"values":[0,0.125,0.25,0.375,0.5,0.625,0.75,0.875,1],"labels":false,"ticks":false}}}},
    {"width":169,"height":170,"data":{"name":"obs"},"mark":{"type":"circle","size":34,"color":"#000000","opacity":1},"encoding":{
     "x":{"field":"F","type":"quantitative","title":null,"scale":{"domain":[19.5,75.2],"nice":false,"zero":false},"axis":{"values":[20,25,30,35,40,45,50,55,60,65,70,75],"format":".0f","labelExpr":"datum.value % 10 != 0 ? '' : datum.label","tickSize":{"condition":{"test":"datum.value % 10 != 0","value":0},"value":3.5}}},
     "y":{"field":"I","type":"quantitative","title":null,"scale":{"domain":[-0.015,1.108],"nice":false,"zero":false},"axis":{"values":[0,0.125,0.25,0.375,0.5,0.625,0.75,0.875,1],"labels":false,"ticks":false}}}},
    {"width":169,"height":170,"data":{"name":"obs"},"mark":{"type":"circle","size":34,"color":"#000000","opacity":1},"encoding":{
     "x":{"field":"RR","type":"quantitative","title":null,"scale":{"domain":[26.9,94.3],"nice":false,"zero":false},"axis":{"values":[30,40,50,60,70,80,90],"format":".0f","labelExpr":"datum.value % 20 != 0 ? '' : datum.label","tickSize":{"condition":{"test":"datum.value % 20 != 0","value":0},"value":3.5}}},
     "y":{"field":"I","type":"quantitative","title":null,"scale":{"domain":[-0.015,1.108],"nice":false,"zero":false},"axis":{"values":[0,0.125,0.25,0.375,0.5,0.625,0.75,0.875,1],"labels":false,"ticks":false}}}},
    {"width":169,"height":170,"data":{"name":"obs"},"mark":{"type":"circle","size":34,"color":"#000000","opacity":1},"encoding":{
     "x":{"field":"RT","type":"quantitative","title":null,"scale":{"domain":[36.41,42.43],"nice":false,"zero":false},"axis":{"values":[37,38,39,40,41,42],"format":".0f","labelExpr":"datum.value % 2 != 0 ? '' : datum.label","tickSize":{"condition":{"test":"datum.value % 2 != 0","value":0},"value":3.5}}},
     "y":{"field":"I","type":"quantitative","title":null,"scale":{"domain":[-0.015,1.108],"nice":false,"zero":false},"axis":{"values":[0,0.125,0.25,0.375,0.5,0.625,0.75,0.875,1],"labels":false,"ticks":false}}}},
    {"width":169,"height":170,"data":{"name":"obs"},"mark":{"type":"circle","size":34,"color":"#000000","opacity":1},"encoding":{
     "x":{"field":"M","type":"quantitative","title":null,"scale":{"domain":[18.6,64.9],"nice":false,"zero":false},"axis":{"values":[20,25,30,35,40,45,50,55,60],"format":".0f","labelExpr":"datum.value % 10 != 0 ? '' : datum.label","tickSize":{"condition":{"test":"datum.value % 10 != 0","value":0},"value":3.5}}},
     "y":{"field":"I","type":"quantitative","title":null,"scale":{"domain":[-0.015,1.108],"nice":false,"zero":false},"axis":{"values":[0,0.125,0.25,0.375,0.5,0.625,0.75,0.875,1],"labels":false,"ticks":false}}}},
    {"width":169,"height":170,"data":{"name":"dI"},"mark":{"type":"line","color":"#000000","strokeWidth":1,"interpolate":"monotone"},"encoding":{
     "x":{"field":"x","type":"quantitative","title":null,"scale":{"domain":[-0.015,1.108],"nice":false,"zero":false},"axis":{"values":[0,0.125,0.25,0.375,0.5,0.625,0.75,0.875,1],"format":".2f","labelExpr":"datum.value % 0.25 != 0 ? '' : datum.label","tickSize":{"condition":{"test":"datum.value % 0.25 != 0","value":0},"value":3.5}}},
     "y":{"field":"y","type":"quantitative","title":null,"scale":{"domain":[-0.05,1.05],"nice":false,"zero":false},"axis":{"values":[0,0.133,0.267,0.4,0.533,0.667,0.8,0.933],"labels":false,"ticks":false}}}}
   ]}
  ]},
  {"spacing":8,"vconcat":[
   {"width":30,"height":170,"view":{"fill":"#D9D9D9","stroke":"#333333"},"data":{"values":[{"s":"Plasma GABA"}]},"mark":{"type":"text","fontSize":17.8,"color":"#1A1A1A","angle":90,"align":"center","baseline":"middle"},"encoding":{"text":{"field":"s","type":"nominal"}}},
   {"width":30,"height":170,"view":{"fill":"#D9D9D9","stroke":"#333333"},"data":{"values":[{"s":"Plasma P4"}]},"mark":{"type":"text","fontSize":17.8,"color":"#1A1A1A","angle":90,"align":"center","baseline":"middle"},"encoding":{"text":{"field":"s","type":"nominal"}}},
   {"width":30,"height":170,"view":{"fill":"#D9D9D9","stroke":"#333333"},"data":{"values":[{"s":"Daily Feed Intake"}]},"mark":{"type":"text","fontSize":17.8,"color":"#1A1A1A","angle":90,"align":"center","baseline":"middle"},"encoding":{"text":{"field":"s","type":"nominal"}}},
   {"width":30,"height":170,"view":{"fill":"#D9D9D9","stroke":"#333333"},"data":{"values":[{"s":"Average Daily RR"}]},"mark":{"type":"text","fontSize":17.8,"color":"#1A1A1A","angle":90,"align":"center","baseline":"middle"},"encoding":{"text":{"field":"s","type":"nominal"}}},
   {"width":30,"height":170,"view":{"fill":"#D9D9D9","stroke":"#333333"},"data":{"values":[{"s":"Average Daily RT"}]},"mark":{"type":"text","fontSize":17.8,"color":"#1A1A1A","angle":90,"align":"center","baseline":"middle"},"encoding":{"text":{"field":"s","type":"nominal"}}},
   {"width":30,"height":170,"view":{"fill":"#D9D9D9","stroke":"#333333"},"data":{"values":[{"s":"Daily Milk Production"}]},"mark":{"type":"text","fontSize":17.8,"color":"#1A1A1A","angle":90,"align":"center","baseline":"middle"},"encoding":{"text":{"field":"s","type":"nominal"}}},
   {"width":30,"height":170,"view":{"fill":"#D9D9D9","stroke":"#333333"},"data":{"values":[{"s":"Plasma Insulin"}]},"mark":{"type":"text","fontSize":17.8,"color":"#1A1A1A","angle":90,"align":"center","baseline":"middle"},"encoding":{"text":{"field":"s","type":"nominal"}}}
  ]}
 ]}
]
}
